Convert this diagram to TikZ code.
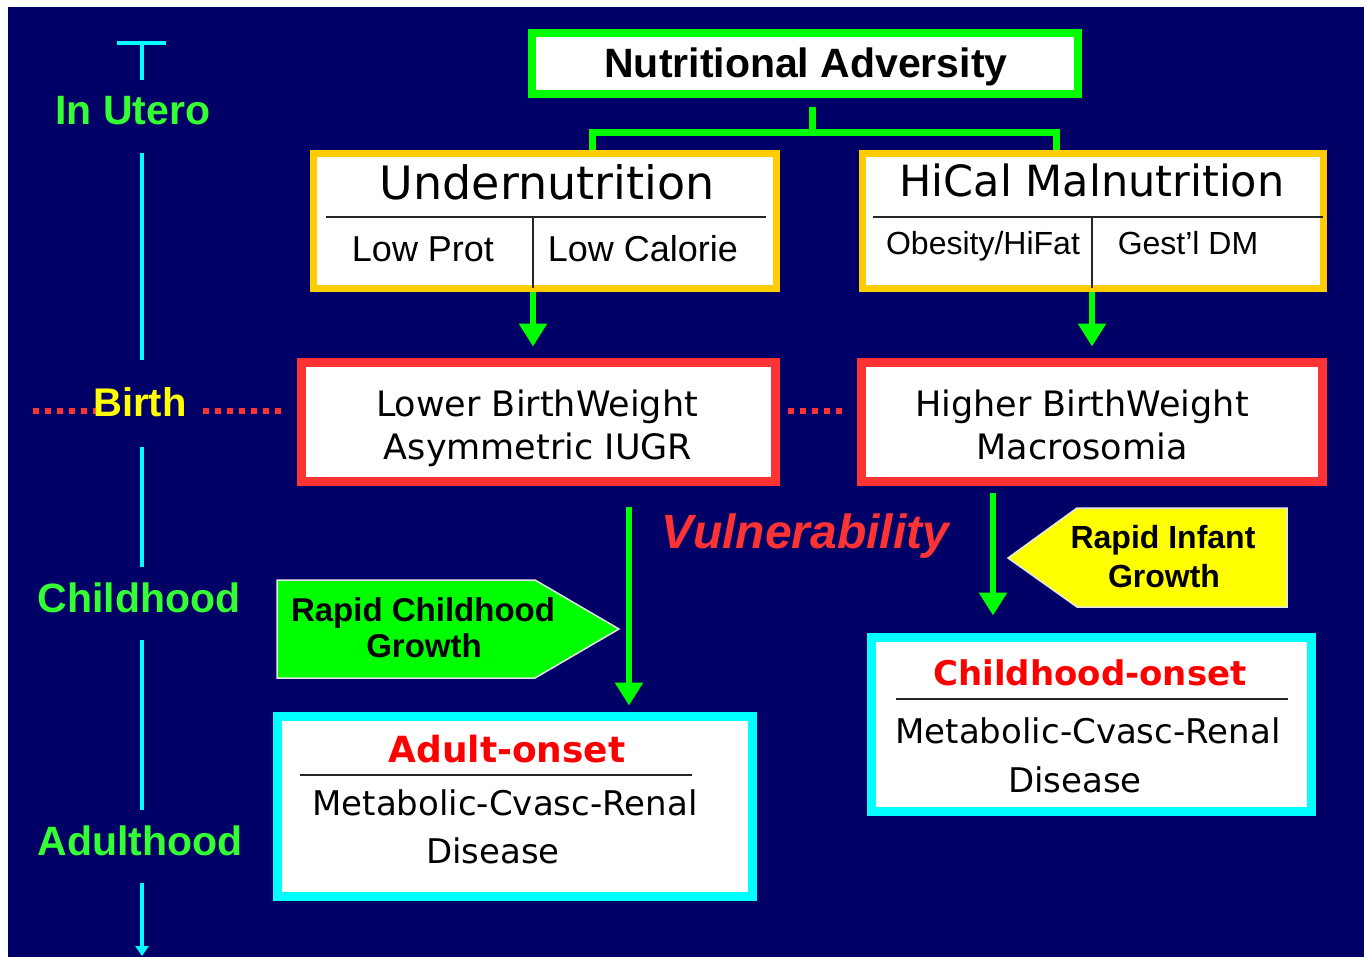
\documentclass[tikz,border=0pt]{standalone}
\usepackage{fontspec}
\setmainfont{Liberation Sans}
\newfontfamily\comicfont{DejaVu Sans}
\usetikzlibrary{arrows.meta}
\definecolor{navy}{HTML}{000066}
\definecolor{lime}{HTML}{00FF00}
\definecolor{leaf}{HTML}{33FF33}
\definecolor{amber}{HTML}{FFCC00}
\definecolor{tomato}{HTML}{FF3333}
\definecolor{aqua}{HTML}{00FFFF}
\definecolor{lemon}{HTML}{FFFF00}
\newcommand\fs[1]{\fontsize{#1}{#1}\selectfont}
\begin{document}
\begin{tikzpicture}[x=1pt,y=-1pt,
    boxframe/.style={draw=#1,fill=white,outer sep=0pt,inner sep=0pt},
    divline/.style={line width=2pt,black!85},
    garrow/.style={draw=lime,line width=6pt,-{Triangle[width=27pt,length=23pt]}},
    gline/.style={draw=lime,line width=7pt},
    tline/.style={draw=aqua,line width=4.5pt},
    birthdots/.style={draw=tomato,line width=6pt,dash pattern=on 6pt off 6pt},
    txt/.style={anchor=base,inner sep=0pt},
    arialtxt/.style={txt,font=\fs{#1}},
    boldtxt/.style={txt,font=\bfseries\fs{#1}},
    comictxt/.style={txt,font=\comicfont\fs{#1}},
    onsettxt/.style={txt,font=\comicfont\bfseries\fs{#1},red},
    growthbox/.style={fill=#1,draw=white!80!gray,line width=1.5pt,line join=miter}]
\useasboundingbox (0,0) rectangle (1364,957);
\fill[white] (0,0) rectangle (1364,957);
\fill[navy] (8,7) rectangle (1364,957);

\draw[tline] (117,43) -- (166,43);
\draw[tline] (142,43) -- (142,80);
\draw[tline] (142,153) -- (142,360);
\draw[tline] (142,447) -- (142,567);
\draw[tline] (142,640) -- (142,810);
\draw[tline,-{Triangle[width=13pt,length=10pt]}] (142,883) -- (142,956);
\draw[birthdots] (33,411) -- (97,411);
\draw[birthdots] (203,411) -- (282,411);
\node[boldtxt=41,leaf] (utero) at (133,125) {In Utero};
\node[boldtxt=40,lemon] (birth) at (140,416) {Birth};
\node[boldtxt=41,leaf] (childhood) at (139,612) {Childhood};
\node[boldtxt=41,leaf] (adulthood) at (140,855) {Adulthood};

\node[boxframe=lime,line width=8pt,minimum width=546pt,minimum height=61pt] (adv) at (805,63.5) {};
\coordinate (tj) at (812,133);
\coordinate (lj) at (592,133);
\coordinate (rj) at (1056,133);
\draw[gline,shorten <=13pt] (tj |- adv.south) -- (tj);
\draw[gline] (lj |- 0,152) -- (lj) -- (rj) -- (rj |- 0,152);

\coordinate (usplit) at (533,217);
\coordinate (hsplit) at (1092,217);
\coordinate (vtop) at (629,507);
\coordinate (itop) at (993,493);
\node[boxframe=amber,line width=7pt,minimum width=463pt,minimum height=135pt] (under) at (545,221) {};
\node[boxframe=amber,line width=7pt,minimum width=461pt,minimum height=135pt] (hical) at (1093,221) {};
\node[boxframe=tomato,line width=9pt,minimum width=474pt,minimum height=119pt] (lowbw) at (538.5,422) {};
\node[boxframe=tomato,line width=9pt,minimum width=461pt,minimum height=119pt] (higbw) at (1092,422) {};
\node[boxframe=aqua,line width=9pt,minimum width=475pt,minimum height=180pt] (adult) at (515,806.5) {};
\node[boxframe=aqua,line width=9pt,minimum width=440pt,minimum height=174pt] (child) at (1091.5,724.5) {};

\draw[garrow,shorten <=3.5pt,shorten >=16pt] (usplit |- under.south) -- (usplit |- lowbw.north);
\draw[garrow,shorten <=3.5pt,shorten >=16pt] (hsplit |- hical.south) -- (hsplit |- higbw.north);
\draw[garrow,shorten >=11pt] (vtop) -- (vtop |- adult.north);
\draw[garrow,shorten >=22pt] (itop) -- (itop |- child.north);
\draw[birthdots,shorten <=12.5pt,shorten >=15pt] ([yshift=11pt]lowbw.east) -- ([yshift=11pt]higbw.west);

\draw[divline] (326,217) -- (766,217);
\draw[divline] (usplit) -- (usplit |- under.south);
\draw[divline] (873,217) -- (1323,217);
\draw[divline] (hsplit) -- (hsplit |- hical.south);
\draw[divline] (300,775) -- (692,775);
\draw[divline] (896,699) -- (1288,699);

\node[boldtxt=41] (advtxt) at (806,78) {Nutritional Adversity};
\node[comictxt=46] (undertxt) at (547,200) {Undernutrition};
\node[arialtxt=36] (prot) at (423,262) {Low Prot};
\node[arialtxt=36] (cal) at (643,262) {Low Calorie};
\node[comictxt=43] (hicaltxt) at (1092,197) {HiCal Malnutrition};
\node[arialtxt=32] (obes) at (983,255) {Obesity/HiFat};
\node[arialtxt=32] (gdm) at (1188,255) {Gest'l DM};
\node[comictxt=35] (lowa) at (537,416) {Lower BirthWeight};
\node[comictxt=35] (lowb) at (538,459) {Asymmetric IUGR};
\node[comictxt=35] (higa) at (1082,416) {Higher BirthWeight};
\node[comictxt=35] (higb) at (1082,459) {Macrosomia};
\node[txt,font=\bfseries\itshape\fs{48},tomato] (vuln) at (805.5,548) {Vulnerability};

\draw[growthbox=lime] (277,580) -- (535,580) -- (619,629) -- (535,678) -- (277,678) -- cycle;
\node[boldtxt=33] (rcga) at (423,621) {Rapid Childhood};
\node[boldtxt=33] (rcgb) at (424,657) {Growth};
\draw[growthbox=lemon] (1008,558) -- (1077,508) -- (1287,508) -- (1287,607) -- (1077,607) -- cycle;
\node[boldtxt=32] (riga) at (1163,548) {Rapid Infant};
\node[boldtxt=32] (rigb) at (1164,587) {Growth};

\node[onsettxt=36] (adulttxt) at (507,762) {Adult-onset};
\node[comictxt=34] (adultm) at (505,815) {Metabolic-Cvasc-Renal};
\node[comictxt=34] (adultd) at (493,863) {Disease};
\node[onsettxt=34] (childtxt) at (1090,685) {Childhood-onset};
\node[comictxt=34] (childm) at (1088,743) {Metabolic-Cvasc-Renal};
\node[comictxt=34] (childd) at (1075,792) {Disease};
\end{tikzpicture}
\end{document}
